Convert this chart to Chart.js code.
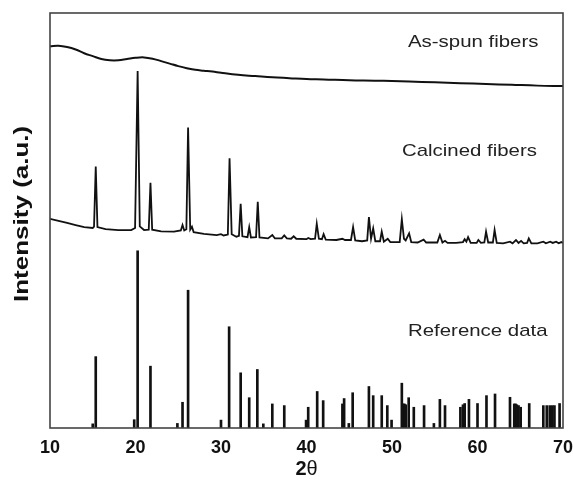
<!DOCTYPE html>
<html><head><meta charset="utf-8">
<script src="https://cdn.jsdelivr.net/npm/chart.js@4.4.1/dist/chart.umd.min.js"></script>
<style>html,body{margin:0;padding:0;background:#fff;}#wrap{width:573px;height:489px;}</style>
</head><body><div id="wrap"><canvas id="c" width="573" height="489"></canvas></div>
<script>
// 2θ (deg) and intensity (a.u., curves stacked with vertical offsets as in the figure)
const asSpun = [[10,92.0],[11,92.1],[12,91.8],[13,91.2],[14,90.3],[15,89.6],[16,88.9],[17,88.6],[18,88.6],[19,88.9],[20,89.2],[21,89.3],[22,89.0],[23,88.4],[24,87.8],[25,87.2],[26,86.7],[27,86.3],[28,86.1],[29,85.9],[30,85.6],[32,85.1],[34,84.8],[36,84.5],[38,84.3],[40,84.1],[42,84.0],[45,83.8],[48,83.7],[50,83.6],[52,83.5],[55,83.3],[58,83.1],[61,82.9],[64,82.7],[67,82.5],[70,82.4]];

const calcined = [[10.0,50.4],[11.0,49.9],[12.0,49.4],[13.0,48.9],[14.0,48.4],[15.0,48.2],
[15.15,48.5],[15.35,63.0],[15.55,48.4],[16.5,47.9],[18.0,47.7],[19.5,47.7],[19.95,48.2],
[20.25,86.0],[20.5,48.6],[21.0,47.7],[21.55,47.8],[21.75,59.1],[21.95,47.8],
[23.0,47.4],[24.5,47.3],[25.3,47.6],[25.5,48.9],[25.7,47.6],[25.95,47.9],[26.15,72.4],[26.4,47.8],[26.6,48.5],[26.8,47.2],
[28.0,46.8],[29.5,46.5],[30.0,46.7],[30.3,46.4],[30.8,46.6],[31.0,65.0],[31.25,46.7],
[31.8,46.1],[32.1,46.3],[32.3,54.0],[32.5,46.2],[33.1,46.0],[33.3,48.4],[33.5,45.9],[34.1,46.0],[34.3,54.5],[34.5,45.9],
[35.5,45.7],[36.0,46.5],[36.3,45.7],[37.1,45.7],[37.4,46.4],[37.7,45.7],[38.2,45.6],[38.5,46.2],[38.8,45.6],
[40.0,45.5],[40.2,45.8],[40.5,45.5],[41.0,45.6],[41.2,49.2],[41.45,45.6],[41.8,45.5],[42.0,46.7],[42.25,45.4],
[43.5,45.3],[44.2,45.6],[44.5,45.3],[45.2,45.3],[45.45,48.4],[45.7,45.2],[46.5,45.0],[47.1,45.2],[47.3,50.8],[47.55,45.6],[47.8,48.1],[48.05,45.0],[48.6,45.0],[48.8,47.3],[49.05,44.9],[49.5,45.6],[49.8,44.8],
[50.9,44.8],[51.15,50.3],[51.4,45.6],[51.6,45.2],[52.0,46.9],[52.25,44.8],[53.0,44.7],[53.7,45.4],[54.0,44.7],
[55.3,44.7],[55.6,46.5],[55.9,44.7],[56.2,45.1],[56.5,44.6],[57.5,44.6],[58.3,44.8],[58.5,45.5],[58.7,44.9],[58.9,46.0],[59.2,44.6],[59.9,44.6],[60.1,45.3],[60.4,44.6],[60.8,44.7],[61.0,47.3],[61.25,44.7],[61.8,44.7],[62.0,47.7],[62.25,44.6],
[63.0,44.5],[63.8,44.9],[64.1,44.5],[64.5,45.3],[64.8,44.6],[65.1,45.1],[65.4,44.5],[65.8,44.6],[66.0,45.7],[66.3,44.5],[67.0,44.5],[67.7,44.9],[68.0,44.5],[68.5,44.9],[68.8,44.6],[69.2,44.9],[69.5,44.5],[69.8,44.8],[70.0,44.6]];

const refPeaks = [[15.0,1.0],[15.35,17.2],[19.85,2.0],[20.25,42.7],[21.75,14.9],[24.9,1.1],[25.5,6.2],[26.15,33.2],
[30.0,1.9],[30.95,24.4],[32.3,13.3],[33.3,7.3],[34.25,14.1],[34.95,1.0],[36.0,5.8],[37.4,5.4],
[39.95,1.9],[40.2,5.0],[41.25,8.8],[41.95,6.6],[44.2,5.8],[44.4,7.1],[44.95,1.1],[45.4,8.5],
[47.3,10.0],[47.8,7.8],[48.8,7.8],[49.45,5.4],[49.95,1.9],[51.15,10.8],[51.3,5.8],[51.45,5.8],[51.6,5.6],[51.95,7.3],[52.55,5.0],
[53.75,5.4],[54.9,1.1],[55.6,6.9],[56.2,5.4],[58.0,5.0],[58.3,5.6],[58.5,5.9],[59.0,6.9],[60.0,5.9],[61.05,7.8],[62.05,8.2],
[63.8,7.4],[64.3,5.8],[64.45,5.8],[64.6,5.6],[64.8,5.4],[65.05,5.0],[66.05,5.9],[67.7,5.4],[68.1,5.4],[68.45,5.4],[68.6,5.2],[68.75,5.4],[69.0,5.4],[69.6,5.9]];

const xTicks = [10,20,30,40,50,60,70];
const curveLabels = ['As-spun fibers','Calcined fibers','Reference data'];
const xTitleMain = '2', xTitleSym = 'θ';
const yTitle = 'Intensity (a.u.)';

const FONT = '"Liberation Sans", Arial, Helvetica, sans-serif';
const INK = '#111';

const textPlugin = {
  id: 'textPlugin',
  afterDraw(chart) {
    const ctx = chart.ctx, a = chart.chartArea;
    // frame
    ctx.save();
    ctx.strokeStyle = '#444'; ctx.lineWidth = 1.6;
    ctx.strokeRect(a.left, a.top, a.right - a.left, a.bottom - a.top);
    ctx.restore();
    // curve labels
    const pos = [[408, 42.7], [402, 151.7], [408, 331.7]];
    ctx.save();
    ctx.fillStyle = '#222';
    ctx.font = '17px ' + FONT;
    ctx.textBaseline = 'middle';
    ctx.textAlign = 'left';
    curveLabels.forEach((t, i) => {
      ctx.save();
      ctx.translate(pos[i][0], pos[i][1]);
      ctx.scale(1.2, 1);
      ctx.fillText(t, 0, 0);
      ctx.restore();
    });
    ctx.restore();
    // y title
    ctx.save();
    ctx.fillStyle = INK;
    ctx.font = 'bold 20px ' + FONT;
    ctx.translate(28, 302);
    ctx.rotate(-Math.PI / 2);
    ctx.scale(1.3, 1);
    ctx.textAlign = 'left'; ctx.textBaseline = 'alphabetic';
    ctx.fillText(yTitle, 0, 0);
    ctx.restore();
    // x title
    ctx.save();
    ctx.fillStyle = INK;
    ctx.textBaseline = 'alphabetic';
    ctx.font = 'bold 20px ' + FONT;
    const w1 = ctx.measureText(xTitleMain).width;
    ctx.font = '20px ' + FONT;
    const w2 = ctx.measureText(xTitleSym).width;
    const cx = (a.left + a.right) / 2;
    let x0 = cx - (w1 + w2) / 2;
    ctx.font = 'bold 20px ' + FONT;
    ctx.fillText(xTitleMain, x0, 475);
    ctx.font = '20px ' + FONT;
    ctx.fillText(xTitleSym, x0 + w1, 475);
    ctx.restore();
  }
};

new Chart(document.getElementById('c'), {
  type: 'line',
  data: {
    datasets: [
      { type: 'line', label: 'As-spun fibers', data: asSpun.map(p => ({x: p[0], y: p[1]})),
        borderColor: INK, borderWidth: 2, pointRadius: 0, tension: 0.4, fill: false },
      { type: 'line', label: 'Calcined fibers', data: calcined.map(p => ({x: p[0], y: p[1]})),
        borderColor: INK, borderWidth: 1.8, pointRadius: 0, tension: 0, fill: false },
      { type: 'bar', label: 'Reference data', data: refPeaks.map(p => ({x: p[0], y: p[1]})),
        backgroundColor: INK, borderWidth: 0, barThickness: 2, grouped: false }
    ]
  },
  options: {
    responsive: false, animation: false, devicePixelRatio: 1,
    layout: { padding: { top: 13, right: 10, left: 0, bottom: 0 } },
    plugins: { legend: { display: false }, tooltip: { enabled: false } },
    scales: {
      x: {
        type: 'linear', min: 10, max: 70, offset: false,
        grid: { display: false, drawTicks: false, offset: false },
        border: { display: false },
        afterBuildTicks: s => { s.ticks = xTicks.map(v => ({ value: v })); },
        afterFit: s => { s.height = 61; s.paddingLeft = 0; s.paddingRight = 0; },
        ticks: { color: INK, font: { family: FONT, size: 18, weight: 'bold' }, padding: 9, maxRotation: 0, autoSkip: false }
      },
      y: {
        type: 'linear', min: 0, max: 100,
        grid: { display: false, drawTicks: false },
        border: { display: false },
        ticks: { display: false },
        afterFit: s => { s.width = 50; s.paddingTop = 0; s.paddingBottom = 0; }
      }
    }
  },
  plugins: [textPlugin]
});
</script></body></html>
